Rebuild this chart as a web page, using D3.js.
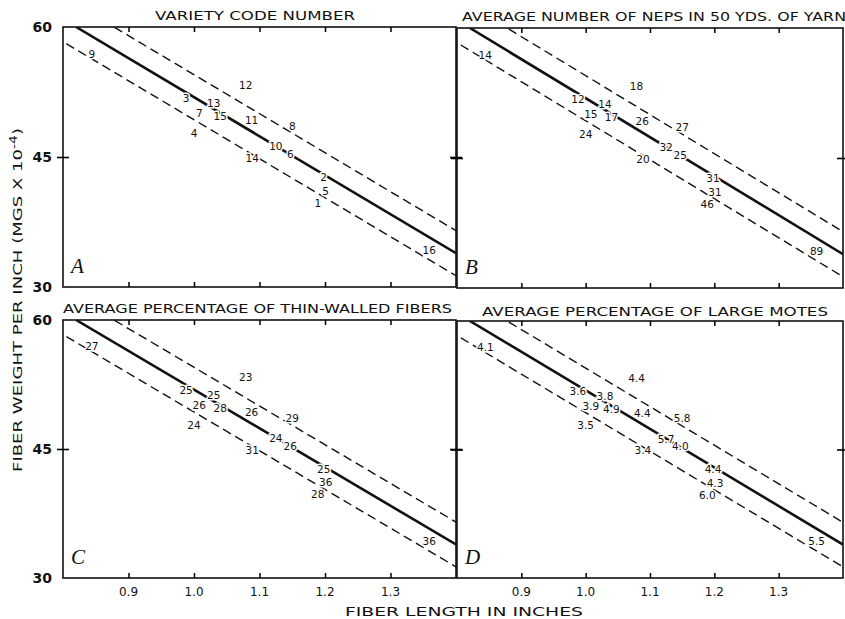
<!DOCTYPE html>
<html>
<head>
<meta charset="utf-8">
<script src="https://cdn.jsdelivr.net/npm/d3@7"></script>
<style>
  body { margin: 0; background: #fff; }
  text { font-family: "DejaVu Sans", "Liberation Sans", sans-serif; fill: #111; }
</style>
</head>
<body>
<script>
// the 16 cotton varieties, same points in every panel
var varietyCode   = ["9","12","3","13","7","15","11","8","4","10","6","14","2","5","1","16"];
var fiberLength   = [0.844,1.079,0.988,1.030,1.008,1.040,1.088,1.150,1.000,1.125,1.147,1.089,1.198,1.201,1.189,1.359];
var fiberWeight   = [56.9,53.3,51.8,51.2,50.1,49.7,49.25,48.6,47.8,46.25,45.35,44.9,42.7,41.1,39.7,34.3];
var nepsPer50Yd   = ["14","18","12","14","15","17","26","27","24","32","25","20","31","31","46","89"];
var thinWalledPct = ["27","23","25","25","26","28","26","29","24","24","26","31","25","36","28","36"];
var largeMotesPct = ["4.1","4.4","3.6","3.8","3.9","4.9","4.4","5.8","3.5","5.7","4.0","3.4","4.4","4.3","6.0","5.5"];

// regression line (two ends) and the width of the dashed band
var fitLength = [0.82, 1.40];
var fitWeight = [60, 33.9];
var bandWidth = 2.6;

var xTicks = [0.9, 1.0, 1.1, 1.2, 1.3];
var xTickLabels = ["0.9", "1.0", "1.1", "1.2", "1.3"];
var yTicks = [30, 45, 60];

var titles = ["VARIETY CODE NUMBER",
              "AVERAGE NUMBER OF NEPS IN 50 YDS. OF YARN",
              "AVERAGE PERCENTAGE OF THIN-WALLED FIBERS",
              "AVERAGE PERCENTAGE OF LARGE MOTES"];
var panelLetters = ["A", "B", "C", "D"];
var panelLabels = [varietyCode, nepsPer50Yd, thinWalledPct, largeMotesPct];

var w = 845, h = 619;

var svg = d3.select("body").append("svg")
  .attr("width", w)
  .attr("height", h);

// panel boxes
var boxes = [
  {x0: 63,  x1: 456, y0: 27,  y1: 287, tx0: 155, tx1: 355, ty: 20},
  {x0: 457, x1: 843, y0: 28,  y1: 288, tx0: 462, tx1: 846, ty: 21},
  {x0: 63,  x1: 456, y0: 320, y1: 578, tx0: 63,  tx1: 452, ty: 313},
  {x0: 457, x1: 843, y0: 321, y1: 578, tx0: 482, tx1: 828, ty: 316}
];

var defs = svg.append("defs");

boxes.forEach(function(b, p) {
  var x = d3.scaleLinear().domain([0.8, 1.4]).range([b.x0, b.x1]);
  var y = d3.scaleLinear().domain([30, 60]).range([b.y1, b.y0]);

  defs.append("clipPath").attr("id", "clip" + p)
    .append("rect")
    .attr("x", b.x0).attr("y", b.y0)
    .attr("width", b.x1 - b.x0).attr("height", b.y1 - b.y0);

  var g = svg.append("g");

  // title
  g.append("text")
    .attr("x", b.tx0)
    .attr("y", b.ty)
    .attr("textLength", b.tx1 - b.tx0)
    .attr("lengthAdjust", "spacingAndGlyphs")
    .style("font-size", "13px")
    .text(titles[p]);

  var line = d3.line()
    .x(function(d) { return x(d[0]); })
    .y(function(d) { return y(d[1]); });

  var slope = (fitWeight[1] - fitWeight[0]) / (fitLength[1] - fitLength[0]);
  function fitAt(v, off) { return fitWeight[0] + slope * (v - fitLength[0]) + off; }

  var lines = g.append("g").attr("clip-path", "url(#clip" + p + ")");

  lines.append("path")
    .datum([[fitLength[0], fitWeight[0]], [fitLength[1], fitWeight[1]]])
    .attr("d", line)
    .attr("fill", "none")
    .attr("stroke", "#111")
    .attr("stroke-width", 2.6);

  [bandWidth, -bandWidth].forEach(function(off) {
    lines.append("path")
      .datum([[0.75, fitAt(0.75, off)], [1.45, fitAt(1.45, off)]])
      .attr("d", line)
      .attr("fill", "none")
      .attr("stroke", "#111")
      .attr("stroke-width", 1.4)
      .attr("stroke-dasharray", "9,5");
  });

  // frame
  g.append("rect")
    .attr("x", b.x0).attr("y", b.y0)
    .attr("width", b.x1 - b.x0).attr("height", b.y1 - b.y0)
    .attr("fill", "none")
    .attr("stroke", "#111")
    .attr("stroke-width", 1.6);

  // x ticks inward, top and bottom
  g.append("g")
    .attr("transform", "translate(0," + b.y1 + ")")
    .call(d3.axisTop(x).tickValues(xTicks).tickSize(5).tickFormat(""))
    .call(function(a) { a.select(".domain").remove(); })
    .selectAll("line").attr("stroke-width", 1.5);
  g.append("g")
    .attr("transform", "translate(0," + b.y0 + ")")
    .call(d3.axisBottom(x).tickValues(xTicks).tickSize(5).tickFormat(""))
    .call(function(a) { a.select(".domain").remove(); })
    .selectAll("line").attr("stroke-width", 1.5);

  // y tick at 45, both sides
  g.append("g")
    .attr("transform", "translate(" + (b.x0 - 6) + ",0)")
    .call(d3.axisRight(y).tickValues([45]).tickSize(12).tickFormat(""))
    .call(function(a) { a.select(".domain").remove(); })
    .selectAll("line").attr("stroke-width", 1.6);
  g.append("g")
    .attr("transform", "translate(" + (b.x1 - 6) + ",0)")
    .call(d3.axisRight(y).tickValues([45]).tickSize(12).tickFormat(""))
    .call(function(a) { a.select(".domain").remove(); })
    .selectAll("line").attr("stroke-width", 1.6);

  // y tick labels on the left panels
  if (p % 2 === 0) {
    g.selectAll(".ylab")
      .data(yTicks)
      .enter().append("text")
      .attr("x", b.x0 - 11)
      .attr("y", function(d) { return y(d); })
      .attr("dy", "0.36em")
      .attr("text-anchor", "end")
      .style("font-size", "14px")
      .style("font-weight", "bold")
      .text(function(d) { return d; });
  }

  // x tick labels on the bottom panels
  if (p >= 2) {
    g.selectAll(".xlab")
      .data(xTicks)
      .enter().append("text")
      .attr("x", function(d) { return x(d); })
      .attr("y", b.y1 + 18)
      .attr("text-anchor", "middle")
      .style("font-size", "12px")
      .text(function(d, i) { return xTickLabels[i]; });
  }

  // the numbers are the points
  g.selectAll(".pt")
    .data(panelLabels[p])
    .enter().append("text")
    .attr("x", function(d, i) { return x(fiberLength[i]); })
    .attr("y", function(d, i) { return y(fiberWeight[i]); })
    .attr("dy", "0.36em")
    .attr("text-anchor", "middle")
    .style("font-size", "10.5px")
    .style("stroke", "#fff")
    .style("stroke-width", 3)
    .style("paint-order", "stroke")
    .text(function(d) { return d; });

  // panel letter
  g.append("text")
    .attr("x", b.x0 + 8)
    .attr("y", b.y1 - 14)
    .style("font-family", "'Liberation Serif', serif")
    .style("font-style", "italic")
    .style("font-size", "21px")
    .text(panelLetters[p]);
});

// axis titles
svg.append("text")
  .attr("x", 345)
  .attr("y", 616)
  .attr("textLength", 238)
  .attr("lengthAdjust", "spacingAndGlyphs")
  .style("font-size", "13px")
  .text("FIBER LENGTH IN INCHES");

var yt = svg.append("text")
  .attr("transform", "translate(22,472) rotate(-90)")
  .attr("textLength", 344)
  .attr("lengthAdjust", "spacingAndGlyphs")
  .style("font-size", "13px");
yt.append("tspan").text("FIBER WEIGHT PER INCH (MGS X 10");
yt.append("tspan").attr("dy", -5).style("font-size", "10px").text("-4");
yt.append("tspan").attr("dy", 5).text(")");
</script>
</body>
</html>
